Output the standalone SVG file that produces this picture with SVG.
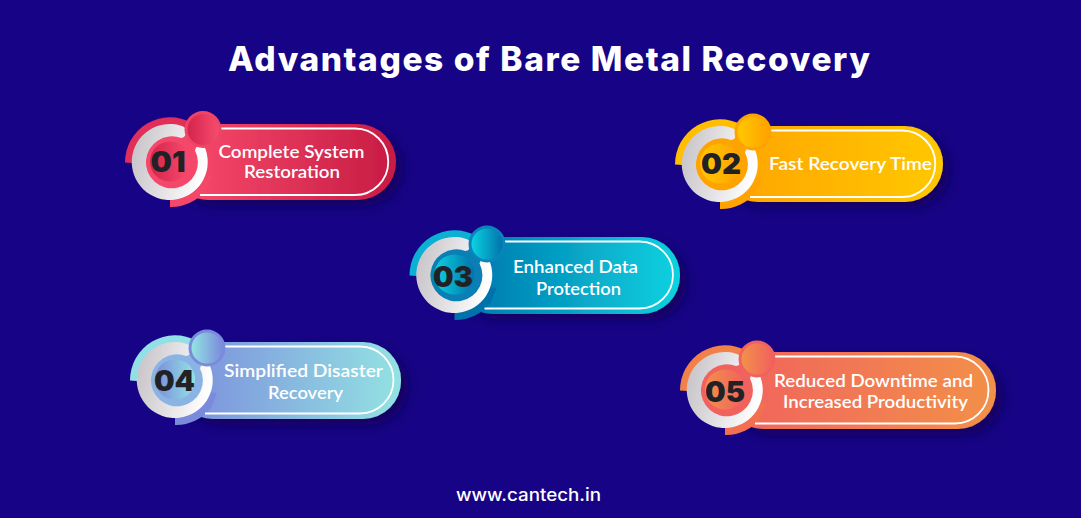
<svg xmlns="http://www.w3.org/2000/svg" width="1081" height="518" viewBox="0 0 1081 518">
<style>
.t{font-family:"Lato","Noto Sans",sans-serif;font-weight:600;font-size:18px;fill:#fff;text-anchor:middle}
.n{font-family:"Inter","Liberation Sans",sans-serif;font-weight:900;font-size:28px;fill:#222226;text-anchor:middle}
.h{font-family:"Inter","Liberation Sans",sans-serif;fill:#fff;text-anchor:middle}
.l{fill:none;stroke:#fff;stroke-width:1.8}
</style>
<defs>
<filter id="sh" x="-15%" y="-25%" width="135%" height="160%"><feDropShadow dx="7" dy="6" stdDeviation="6" flood-color="#0b0050" flood-opacity=".7"/></filter>
<linearGradient id="gray" x1="0" x2="1" y1="0.15" y2="0.35"><stop offset="0" stop-color="#c6c2c7"/><stop offset="1" stop-color="#ffffff"/></linearGradient>
<linearGradient id="p1"><stop offset="0" stop-color="#fa4d6e"/><stop offset="1" stop-color="#c71b44"/></linearGradient>
<linearGradient id="b1"><stop offset="0" stop-color="#d4244c"/><stop offset="1" stop-color="#f74c6d"/></linearGradient>
<linearGradient id="p2"><stop offset="0" stop-color="#ffa300"/><stop offset="1" stop-color="#ffc800"/></linearGradient>
<linearGradient id="b2"><stop offset="0" stop-color="#ffc800"/><stop offset="1" stop-color="#ffa300"/></linearGradient>
<linearGradient id="p3"><stop offset="0" stop-color="#0072ab"/><stop offset="1" stop-color="#0cd2e0"/></linearGradient>
<linearGradient id="b3"><stop offset="0" stop-color="#0cd2e0"/><stop offset="1" stop-color="#0072ab"/></linearGradient>
<linearGradient id="p4"><stop offset="0" stop-color="#7b8bdc"/><stop offset="1" stop-color="#93e3e3"/></linearGradient>
<linearGradient id="b4"><stop offset="0" stop-color="#93e3e3"/><stop offset="1" stop-color="#7b8bdc"/></linearGradient>
<linearGradient id="p5"><stop offset="0" stop-color="#f1625e"/><stop offset="1" stop-color="#f29049"/></linearGradient>
<linearGradient id="b5"><stop offset="0" stop-color="#f29049"/><stop offset="1" stop-color="#f1625e"/></linearGradient>
<path id="arcT" d="M125,162.500 A45,45 0 0 1 192,123 L170,163 L132,163 Z"/>
<path id="arcB" d="M170,207 A44,44 0 0 0 206,190 L212,175 L170,170 Z"/>
<circle id="base" cx="171" cy="163" r="36"/>
<path id="ring" d="M181,125.700 A38,38 0 1 0 205.800,150 A5.500,5.500 0 0 0 195,150.400 A26,26 0 1 1 181,138 A6.200,6.200 0 0 0 181,125.700 Z" fill="url(#gray)"/>
</defs>
<rect width="1081" height="518" fill="#170385"/>
<text class="h" x="549" y="70.500" font-size="33.500" font-weight="800" textLength="642" lengthAdjust="spacing">Advantages of Bare Metal Recovery</text>

<g id="node-1">
<g>
<rect x="170" y="124" width="226" height="76" rx="38" fill="url(#p1)" filter="url(#sh)"/>
<use href="#arcT" fill="#e02f58"/><use href="#arcB" fill="#f4476a"/><use href="#base" fill="#f4476a"/><use href="#ring"/>
<circle cx="170" cy="161.500" r="20" fill="url(#b1)"/>
<path class="l" d="M200,195 H355 A33,33 0 0 0 355,128.500 H218"/>
<circle cx="203" cy="129.500" r="18.500" fill="#ee4565"/><circle cx="203" cy="129.500" r="15.500" fill="url(#b1)"/>
</g>
<text class="n" x="168" y="172" textLength="35" lengthAdjust="spacingAndGlyphs">01</text>
<text class="t" x="291.500" y="157.500" textLength="146" lengthAdjust="spacingAndGlyphs">Complete System</text>
<text class="t" x="292" y="177.500" textLength="96" lengthAdjust="spacingAndGlyphs">Restoration</text>
</g>

<g id="node-2">
<g transform="translate(550,2)">
<rect x="170" y="124" width="223" height="76" rx="38" fill="url(#p2)" filter="url(#sh)"/>
<use href="#arcT" fill="#ffbe00"/><use href="#arcB" fill="#ffa300"/><use href="#base" fill="#ffa300"/><use href="#ring"/>
<circle cx="170" cy="161.500" r="20" fill="url(#b2)"/>
<path class="l" d="M200,195 H352 A33,33 0 0 0 352,128.500 H218"/>
<circle cx="203" cy="130" r="18.500" fill="#ffa300"/><circle cx="203" cy="130" r="15.500" fill="url(#b2)"/>
</g>
<text class="n" x="721" y="174" textLength="40" lengthAdjust="spacingAndGlyphs">02</text>
<text class="t" x="850.500" y="170" textLength="163" lengthAdjust="spacingAndGlyphs">Fast Recovery Time</text>
</g>

<g id="node-3">
<g transform="translate(284.500,113)">
<rect x="170" y="124" width="225.500" height="77" rx="38" fill="url(#p3)" filter="url(#sh)"/>
<use href="#arcT" fill="#0cb0d2"/><use href="#arcB" fill="#0072ab"/><use href="#base" fill="#0a7fb5"/><use href="#ring"/>
<circle cx="170" cy="161.500" r="20" fill="url(#b3)"/>
<path class="l" d="M200,195.500 H355 A33.500,33.500 0 0 0 355,128.500 H218"/>
<circle cx="202.500" cy="131" r="18.500" fill="#0a84bb"/><circle cx="202.500" cy="131" r="15.500" fill="url(#b3)"/>
</g>
<text class="n" x="453" y="286.500" textLength="40" lengthAdjust="spacingAndGlyphs">03</text>
<text class="t" x="575.500" y="272.500" textLength="125" lengthAdjust="spacingAndGlyphs">Enhanced Data</text>
<text class="t" x="578.500" y="294.500" textLength="85" lengthAdjust="spacingAndGlyphs">Protection</text>
</g>

<g id="node-4">
<g transform="translate(5,218)">
<rect x="170" y="124" width="226" height="77" rx="38" fill="url(#p4)" filter="url(#sh)"/>
<use href="#arcT" fill="#93dfe6"/><use href="#arcB" fill="#7b8bdc"/><use href="#base" fill="#8ab4e4"/><use href="#ring"/>
<circle cx="170" cy="161.500" r="20" fill="url(#p4)"/>
<path class="l" d="M200,195.500 H355 A33.500,33.500 0 0 0 355,128.500 H218"/>
<circle cx="202" cy="130" r="18.500" fill="#7b8bdc"/><circle cx="202" cy="130" r="15.500" fill="url(#b4)"/>
</g>
<text class="n" x="174.500" y="391" textLength="41" lengthAdjust="spacingAndGlyphs">04</text>
<text class="t" x="303.500" y="376.500" textLength="159" lengthAdjust="spacingAndGlyphs">Simplified Disaster</text>
<text class="t" x="305.500" y="398.500" textLength="75" lengthAdjust="spacingAndGlyphs">Recovery</text>
</g>

<g id="node-5">
<g transform="translate(555,228)">
<rect x="170" y="124" width="271" height="77" rx="38" fill="url(#p5)" filter="url(#sh)"/>
<use href="#arcT" fill="#f28049"/><use href="#arcB" fill="#f2704f"/><use href="#base" fill="#f1625e"/><use href="#ring"/>
<circle cx="170" cy="161.500" r="20" fill="url(#b5)"/>
<path class="l" d="M200,195.500 H400 A33.500,33.500 0 0 0 400,128.500 H218"/>
<circle cx="202" cy="131" r="18.500" fill="#f1625e"/><circle cx="202" cy="131" r="15.500" fill="url(#b5)"/>
</g>
<text class="n" x="725" y="402" textLength="40" lengthAdjust="spacingAndGlyphs">05</text>
<text class="t" x="873.500" y="386.500" textLength="199" lengthAdjust="spacingAndGlyphs">Reduced Downtime and</text>
<text class="t" x="875.500" y="407.500" textLength="185" lengthAdjust="spacingAndGlyphs">Increased Productivity</text>
</g>

<text class="h" x="528.500" y="500.500" font-size="17" font-weight="500" textLength="145" lengthAdjust="spacingAndGlyphs">www.cantech.in</text>
</svg>
